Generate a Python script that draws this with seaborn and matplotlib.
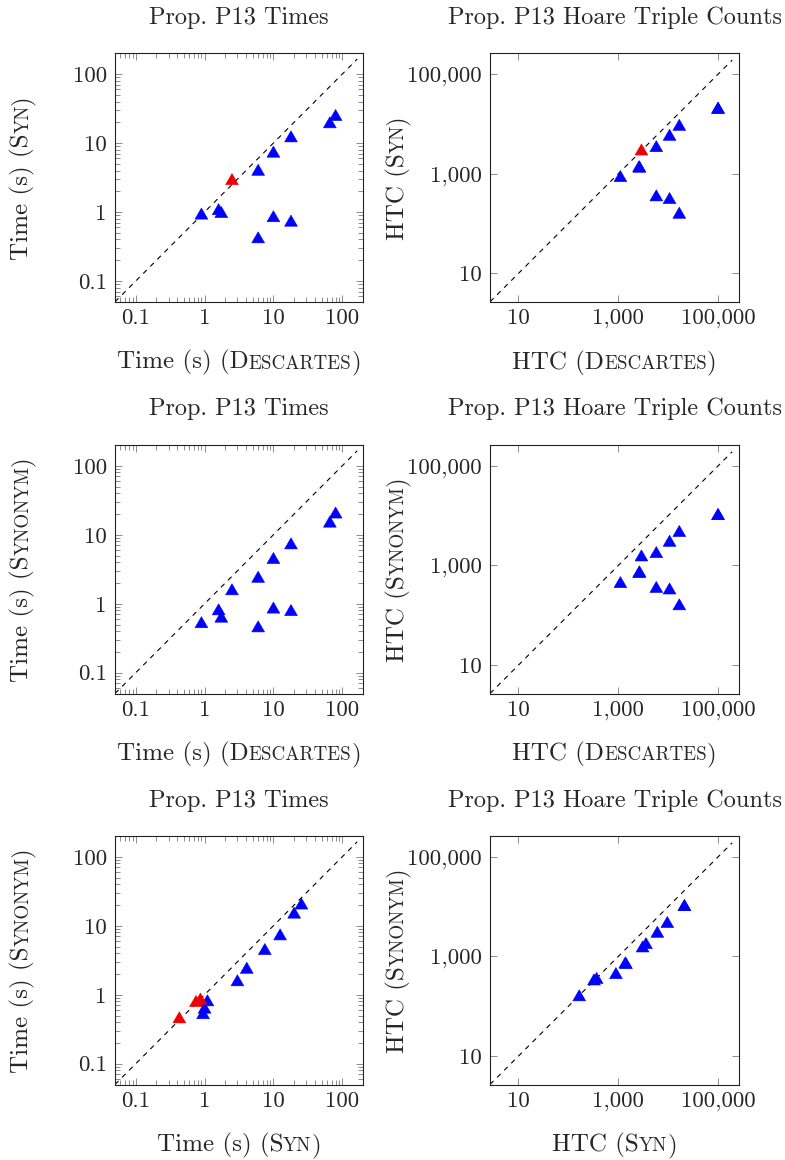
import numpy as np
import pandas as pd
import seaborn as sns
import matplotlib.pyplot as plt
from matplotlib.path import Path
from matplotlib.ticker import FixedLocator, FixedFormatter, LogLocator, NullFormatter, NullLocator
from matplotlib.transforms import IdentityTransform

# run times (s), one entry per benchmark
desc_time = [0.9, 1.6, 1.75, 2.5, 6.0, 6.0, 10.0, 10.0, 18.0, 18.0, 66.0, 80.0]
syn_time = [0.95, 1.1, 1.0, 3.0, 4.1, 0.43, 7.5, 0.87, 12.5, 0.75, 20.0, 25.5]
synonym_time = [0.54, 0.83, 0.65, 1.62, 2.46, 0.47, 4.6, 0.88, 7.5, 0.81, 15.5, 21.0]

# hoare triple counts, same order
desc_htc = [1100, 2600, 2650, 2900, 5750, 5750, 10600, 10600, 16600, 16600, 99000, 99000]
syn_htc = [895, 1420, 1380, 3060, 3570, 368, 6030, 325, 9550, 165, 21000, 21000]
synonym_htc = [463, 735, 760, 1585, 1850, 370, 3120, 345, 4900, 166, 10700, 10700]

# which points are drawn red in each panel
flag_desc_syn_time = ['ok', 'ok', 'ok', 'bad', 'ok', 'ok', 'ok', 'ok', 'ok', 'ok', 'ok', 'ok']
flag_desc_syn_htc = ['ok', 'ok', 'ok', 'bad', 'ok', 'ok', 'ok', 'ok', 'ok', 'ok', 'ok', 'ok']
flag_desc_synonym_time = ['ok'] * 12
flag_desc_synonym_htc = ['ok'] * 12
flag_syn_synonym_time = ['ok', 'ok', 'ok', 'ok', 'ok', 'bad', 'ok', 'bad', 'ok', 'bad', 'ok', 'ok']
flag_syn_synonym_htc = ['ok'] * 12

time_ticks = [0.1, 1, 10, 100]
time_ticklabels = ['0.1', '1', '10', '100']
time_lim = [0.05, 200]
time_diag = [0.05, 165]

htc_ticks = [10, 1000, 100000]
htc_ticklabels = ['10', '1,000', '100,000']
htc_lim = [2.7, 2.6e5]
htc_diag = [2.7, 1.9e5]

sns.set_style('ticks')
plt.rcParams['font.family'] = 'cmr10'
plt.rcParams['axes.formatter.use_mathtext'] = True

W, H = 785, 1160
fig = plt.figure(figsize=(W / 100, H / 100), dpi=100)

# equilateral-ish triangle like pgfplots triangle*, centred on its box
tri = Path([(0, 0.75), (-0.866, -0.75), (0.866, -0.75), (0, 0.75)],
           [Path.MOVETO, Path.LINETO, Path.LINETO, Path.CLOSEPOLY])
pal = {'ok': '#0000ff', 'bad': '#ee0000'}

TICK_FS = 16.5
LAB_FS = 18
TITLE_FS = 17.5
SC = 0.76

col_left = [115, 490]
col_w = [248, 249]
row_top = [53.3, 445, 836]
ax_h = 248.5

panels = [
    (0, 0, desc_time, syn_time, flag_desc_syn_time, 'time', 'Prop. P13 Times',
     [('Time (s) (D', 1), ('ESCARTES', SC), (')', 1)], [('Time (s) (S', 1), ('YN', SC), (')', 1)]),
    (0, 1, desc_htc, syn_htc, flag_desc_syn_htc, 'htc', 'Prop. P13 Hoare Triple Counts',
     [('HTC (D', 1), ('ESCARTES', SC), (')', 1)], [('HTC (S', 1), ('YN', SC), (')', 1)]),
    (1, 0, desc_time, synonym_time, flag_desc_synonym_time, 'time', 'Prop. P13 Times',
     [('Time (s) (D', 1), ('ESCARTES', SC), (')', 1)], [('Time (s) (S', 1), ('YNONYM', SC), (')', 1)]),
    (1, 1, desc_htc, synonym_htc, flag_desc_synonym_htc, 'htc', 'Prop. P13 Hoare Triple Counts',
     [('HTC (D', 1), ('ESCARTES', SC), (')', 1)], [('HTC (S', 1), ('YNONYM', SC), (')', 1)]),
    (2, 0, syn_time, synonym_time, flag_syn_synonym_time, 'time', 'Prop. P13 Times',
     [('Time (s) (S', 1), ('YN', SC), (')', 1)], [('Time (s) (S', 1), ('YNONYM', SC), (')', 1)]),
    (2, 1, syn_htc, synonym_htc, flag_syn_synonym_htc, 'htc', 'Prop. P13 Hoare Triple Counts',
     [('HTC (S', 1), ('YN', SC), (')', 1)], [('HTC (S', 1), ('YNONYM', SC), (')', 1)]),
]

renderer = fig.canvas.get_renderer()


def put_label(parts, x, y, vertical):
    # fake small caps: pieces of text at two sizes laid out one after the other
    widths = []
    for s, k in parts:
        t = fig.text(0, 0, s, fontsize=LAB_FS * k)
        widths.append(t.get_window_extent(renderer).width)
        t.remove()
    pos = -sum(widths) / 2
    for (s, k), w in zip(parts, widths):
        if vertical:
            fig.text(x, y + pos, s, fontsize=LAB_FS * k, rotation=90, rotation_mode='anchor',
                     ha='left', va='baseline', transform=IdentityTransform())
        else:
            fig.text(x + pos, y, s, fontsize=LAB_FS * k, ha='left', va='baseline',
                     transform=IdentityTransform())
        pos += w


for row, col, xv, yv, flags, kind, title, xlab, ylab in panels:
    l, t = col_left[col], row_top[row]
    w = col_w[col]
    ax = fig.add_axes([l / W, (H - t - ax_h) / H, w / W, ax_h / H])
    df = pd.DataFrame({'x': xv, 'y': yv, 'flag': flags})

    if kind == 'time':
        lim, diag, ticks, labels = time_lim, time_diag, time_ticks, time_ticklabels
    else:
        lim, diag, ticks, labels = htc_lim, htc_diag, htc_ticks, htc_ticklabels

    ax.plot(diag, diag, color='black', lw=0.8, linestyle=(0, (4.5, 4.5)), zorder=1)
    sns.scatterplot(data=df, x='x', y='y', hue='flag', palette=pal, marker=tri, s=85,
                    linewidth=0.4, edgecolor='face', legend=False, ax=ax, zorder=3)

    ax.set_xscale('log')
    ax.set_yscale('log')
    ax.set_xlim(lim)
    ax.set_ylim(lim)
    for axis in (ax.xaxis, ax.yaxis):
        axis.set_major_locator(FixedLocator(ticks))
        axis.set_major_formatter(FixedFormatter(labels))
        if kind == 'time':
            axis.set_minor_locator(LogLocator(base=10, subs=np.arange(2, 10), numticks=50))
            axis.set_minor_formatter(NullFormatter())
        else:
            axis.set_minor_locator(NullLocator())
    ax.tick_params(which='both', direction='in', top=True, right=True, color='#7a7a7a', width=0.6)
    ax.tick_params(which='major', length=5, labelsize=TICK_FS)
    ax.tick_params(which='minor', length=3.5)
    ax.tick_params(axis='x', pad=5)
    ax.tick_params(axis='y', pad=6)
    ax.set_xlabel('')
    ax.set_ylabel('')
    for sp in ax.spines.values():
        sp.set_color('#222222')
        sp.set_linewidth(0.8)

    cx = l + w / 2
    cy = H - (t + ax_h / 2)
    fig.text(cx, H - (t - 29.5), title, fontsize=TITLE_FS, ha='center', va='baseline',
             transform=IdentityTransform())
    put_label(xlab, cx, H - (t + ax_h + 66.8), False)
    put_label(ylab, l - 86.5, cy, True)

fig.savefig('out.png', dpi=100)
